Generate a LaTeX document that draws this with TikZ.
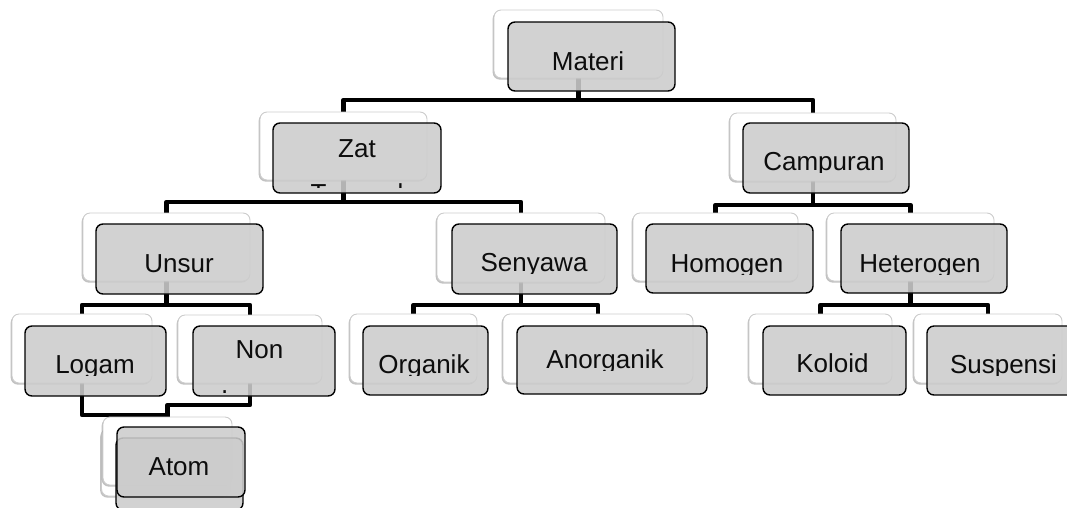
\documentclass[tikz,border=0pt]{standalone}
\usepackage{fontspec}
\setmainfont{Liberation Sans}
\usetikzlibrary{shadows}
\pgfdeclarelayer{bg}
\pgfsetlayers{bg,main}
\newcommand\cliptext[5]{%
  \begin{scope}
    \clip (#2-110,#3-40) rectangle (#2+110,#4);
    \node[lbl] (#1) at (#2,#3) {#5};
  \end{scope}}
\begin{document}
\begin{tikzpicture}[x=1pt,y=-1pt,
  backbox/.style={draw=black!20, line width=0.9pt, fill=white, rounded corners=7pt,
    inner sep=0pt, outer sep=0pt,
    drop shadow={shadow xshift=-1.3pt, shadow yshift=-1.6pt, opacity=0.4, fill=black!60}},
  frontbox/.style={draw=black, line width=1.4pt, fill=black!20, fill opacity=0.88,
    rounded corners=7pt, inner sep=0pt, outer sep=0pt},
  lbl/.style={font=\fontsize{26}{30}\selectfont, inner sep=0pt, anchor=base, text=black!95},
  link/.style={line width=4.5pt, line join=round},
  sz/.style 2 args={minimum width=#1pt, minimum height=#2pt}
]
\useasboundingbox (0,0) rectangle (1067,507);

% back (white) boxes
\node[backbox, sz={169}{68}] (materi-b)    at (578.5,44) {};
\node[backbox, sz={167}{68}] (zat-b)       at (343.5,146) {};
\node[backbox, sz={166}{68}] (campuran-b)  at (813,147) {};
\node[backbox, sz={167}{68}] (unsur-b)     at (166.5,247) {};
\node[backbox, sz={168}{69}] (senyawa-b)   at (521,247.5) {};
\node[backbox, sz={165}{68}] (homogen-b)   at (715.5,247) {};
\node[backbox, sz={167}{68}] (heterogen-b) at (910.5,247) {};
\node[backbox, sz={140}{69}] (logam-b)     at (82,348.5) {};
\node[backbox, sz={144}{68}] (nonlogam-b)  at (250,349) {};
\node[backbox, sz={127}{69}] (organik-b)   at (413.5,348.5) {};
\node[backbox, sz={190}{69}] (anorganik-b) at (598,348.5) {};
\node[backbox, sz={143}{69}] (koloid-b)    at (820.5,348.5) {};
\node[backbox, sz={148}{69}] (suspensi-b)  at (988,348.5) {};
\node[backbox, sz={129}{68}] (atom-b2)     at (166,462) {};
\node[backbox, sz={129}{68}] (atom-b)      at (167.5,451) {};

% front (grey) boxes
\node[frontbox, sz={167}{69}] (materi)    at (591.5,56.5) {};
\node[frontbox, sz={168}{70}] (zat)       at (357,158) {};
\node[frontbox, sz={166}{70}] (campuran)  at (826,158) {};
\node[frontbox, sz={167}{70}] (unsur)     at (179.5,259) {};
\node[frontbox, sz={165}{70}] (senyawa)   at (534.5,259) {};
\node[frontbox, sz={167}{69}] (homogen)   at (729.5,258.5) {};
\node[frontbox, sz={166}{69}] (heterogen) at (924,258.5) {};
\node[frontbox, sz={141}{70}] (logam)     at (95.5,361) {};
\node[frontbox, sz={142}{70}] (nonlogam)  at (264,361) {};
\node[frontbox, sz={125}{69}] (organik)   at (425.5,360.5) {};
\node[frontbox, sz={190}{68}] (anorganik) at (612,360) {};
\node[frontbox, sz={143}{69}] (koloid)    at (834.5,360.5) {};
\node[frontbox, sz={149}{69}] (suspensi)  at (1001.5,360.5) {};
\node[frontbox, sz={127}{72}] (atom2)     at (179.5,474) {};
\node[frontbox, sz={128}{70}] (atom)      at (181,462) {};

% connectors
\begin{pgfonlayer}{bg}
\draw[link] (materi-b.south) -- ++(0,22) -| (zat-b.north);
\draw[link] (materi-b.south) -- ++(0,22) -| (campuran-b.north);
\draw[link] (zat-b.south) -- ++(0,22) -| (unsur-b.north);
\draw[link] (zat-b.south) -- ++(0,22) -| (senyawa-b.north);
\draw[link] (campuran-b.south) -- ++(0,24) -| (homogen-b.north);
\draw[link] (campuran-b.south) -- ++(0,24) -| (heterogen-b.north);
\draw[link] (unsur-b.south) -- ++(0,24) -| (logam-b.north);
\draw[link] (unsur-b.south) -- ++(0,24) -| (nonlogam-b.north);
\draw[link] (senyawa-b.south) -- ++(0,23) -| (organik-b.north);
\draw[link] (senyawa-b.south) -- ++(0,23) -| (anorganik-b.north);
\draw[link] (heterogen-b.south) -- ++(0,24) -| (koloid-b.north);
\draw[link] (heterogen-b.south) -- ++(0,24) -| (suspensi-b.north);
\draw[link] (logam-b.south) -- ++(0,32) -| (atom-b.north);
\draw[link] (nonlogam-b.south) -- ++(0,22) -| (atom-b.north);
\end{pgfonlayer}

% labels (clipped as in the original)
\cliptext{materi-t}{588}{70}{72}{Materi}
\begin{scope}
  \clip (250,120) rectangle (460,187.5);
  \node[lbl] (zat-t) at (357,157) {Zat};
  \node[lbl] (zat-t2) at (357,202) {Tunggal};
\end{scope}
\cliptext{campuran-t}{824}{170}{172}{Campuran}
\cliptext{unsur-t}{179}{272}{274}{Unsur}
\cliptext{senyawa-t}{534}{271}{273}{Senyawa}
\cliptext{homogen-t}{727}{272}{274}{Homogen}
\cliptext{heterogen-t}{920}{272}{274}{Heterogen}
\cliptext{logam-t}{95}{373}{375}{Logam}
\begin{scope}
  \clip (190,320) rectangle (340,392.5);
  \node[lbl] (nonlogam-t) at (259.5,358) {Non};
  \node[lbl] (nonlogam-t2) at (261,408) {Logam};
\end{scope}
\cliptext{organik-t}{424}{373}{375}{Organik}
\cliptext{anorganik-t}{605}{368}{370}{Anorganik}
\cliptext{koloid-t}{832.5}{372}{374}{Koloid}
\cliptext{suspensi-t}{1003.5}{373}{375}{Suspensi}
\cliptext{atom-t}{179}{475}{477}{Atom}
\end{tikzpicture}
\end{document}
